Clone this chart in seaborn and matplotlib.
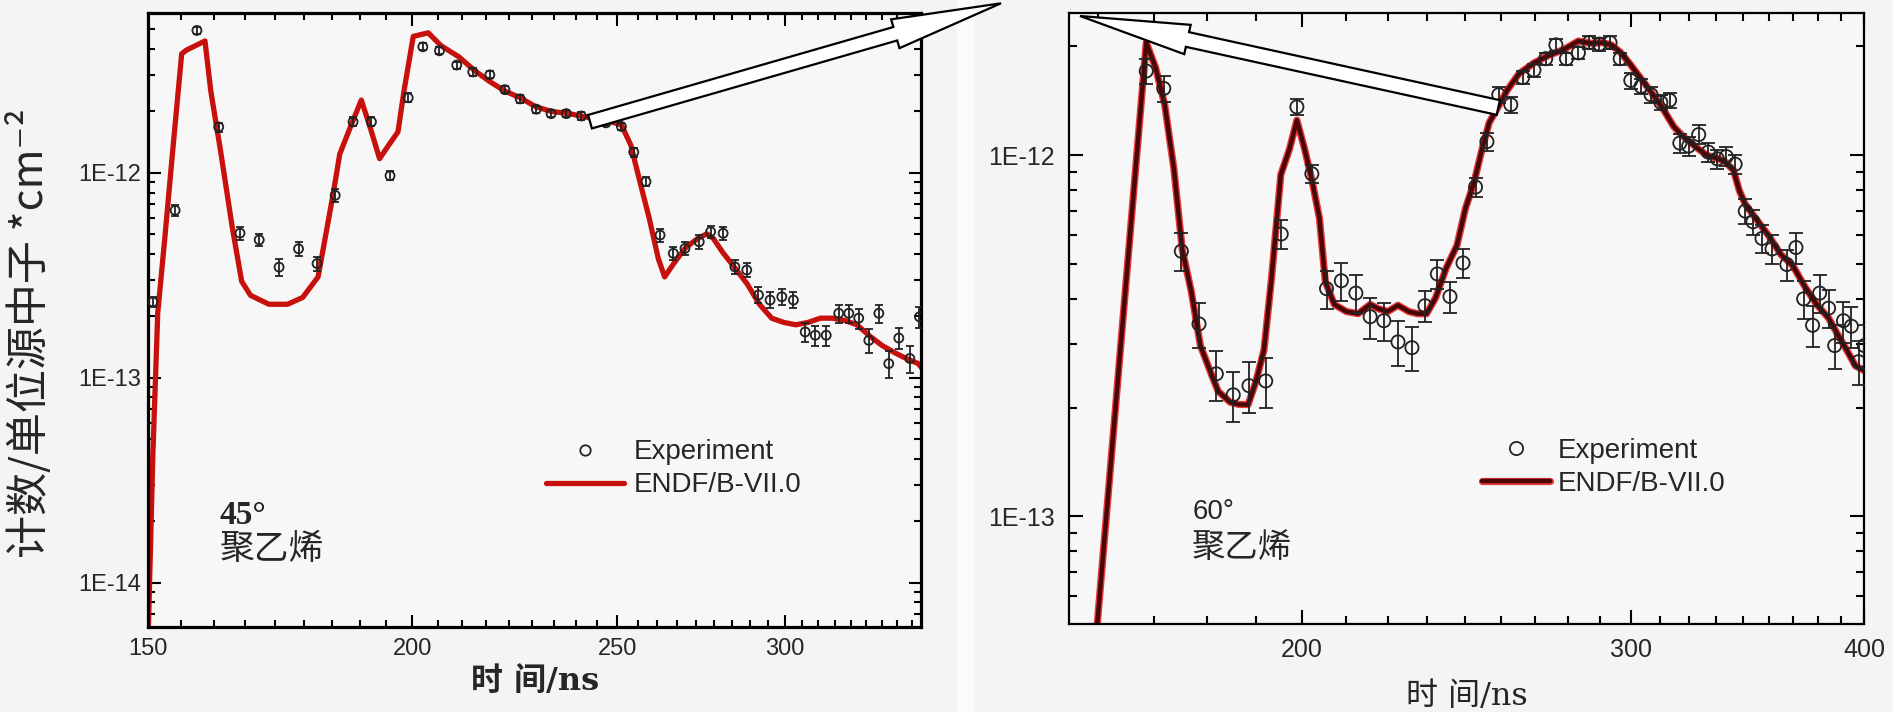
import numpy as np
import pandas as pd
import matplotlib
matplotlib.use("Agg")
import matplotlib.pyplot as plt
import seaborn as sns
import matplotlib.patheffects as pe
from matplotlib.ticker import FixedLocator, NullFormatter, FuncFormatter, LogLocator
from matplotlib.lines import Line2D
from matplotlib.patches import FancyArrow, Rectangle
from matplotlib.transforms import IdentityTransform

# ---------------- data: 45 degree panel ----------------
exp45_t = [150.8, 154.5, 158.2, 162.0, 165.8, 169.3, 173.0, 176.7, 180.3, 183.9,
           187.5, 191.3, 195.2, 199.1, 202.3, 206.0, 209.9, 213.6, 217.6, 221.2,
           224.9, 228.9, 232.6, 236.5, 240.4, 246.9, 251.1, 254.5, 257.9,
           261.9, 265.7, 269.1, 273.3, 276.7, 280.5, 284.1, 287.8, 291.5, 295.2, 299.0, 302.8,
           306.7, 310.1, 313.8, 318.1, 321.6, 325.1, 328.7, 332.3, 335.9, 339.6, 343.7, 347.3]
exp45_v = [0.234, 0.655, 4.94, 1.67, 0.507, 0.47, 0.346, 0.425, 0.36, 0.775,
           1.77, 1.77, 0.966, 2.32, 4.11, 3.93, 3.35, 3.10, 3.00, 2.54,
           2.29, 2.04, 1.94, 1.94, 1.89, 1.75, 1.68, 1.26, 0.904,
           0.496, 0.404, 0.427, 0.460, 0.515, 0.506, 0.347, 0.335, 0.253, 0.239, 0.248, 0.239,
           0.167, 0.161, 0.161, 0.206, 0.206, 0.195, 0.152, 0.206, 0.117, 0.156, 0.124, 0.198]
exp45_rel = [0.06, 0.06, 0.04, 0.05, 0.07, 0.07, 0.09, 0.08, 0.08, 0.07,
             0.05, 0.05, 0.05, 0.05, 0.04, 0.04, 0.04, 0.04, 0.04, 0.04,
             0.04, 0.04, 0.04, 0.04, 0.04, 0.04, 0.04, 0.05, 0.05,
             0.07, 0.07, 0.07, 0.08, 0.07, 0.07, 0.08, 0.08, 0.09, 0.09, 0.09, 0.09,
             0.11, 0.11, 0.11, 0.10, 0.10, 0.11, 0.13, 0.10, 0.15, 0.12, 0.15, 0.12]
endf45_t = [150.0, 150.8, 151.6, 152.8, 154.1, 155.6, 156.4, 159.6, 160.6, 162.3,
            164.4, 166.1, 167.7, 171.1, 174.6, 177.5, 180.5, 182.3, 183.6, 184.8,
            187.3, 189.2, 191.0, 193.0, 194.9, 196.9, 198.2, 200.2, 203.5, 206.3,
            210.4, 214.0, 217.6, 221.2, 224.9, 228.7, 232.6, 237.3, 242.1, 246.9,
            251.1, 253.7, 256.2, 258.8, 261.4, 263.2, 265.8, 269.3, 272.9, 275.6,
            277.5, 280.3, 284.1, 287.9, 291.8, 295.7, 299.6, 303.6, 307.7, 311.8,
            316.0, 320.2, 324.5, 328.9, 333.3, 337.8, 342.3, 346.9, 348.5]
endf45_v = [0.005, 0.0424, 0.207, 0.49, 1.29, 3.8, 3.96, 4.39, 2.51, 1.29,
            0.543, 0.295, 0.252, 0.228, 0.228, 0.246, 0.31, 0.543, 0.817, 1.23,
            1.75, 2.26, 1.67, 1.17, 1.36, 1.58, 2.51, 4.62, 4.81, 4.17,
            3.67, 3.15, 2.78, 2.50, 2.32, 2.10, 1.99, 1.94, 1.86, 1.80,
            1.71, 1.36, 0.904, 0.601, 0.38, 0.31, 0.36, 0.431, 0.478, 0.503,
            0.478, 0.41, 0.343, 0.287, 0.228, 0.195, 0.186, 0.181, 0.186, 0.195,
            0.195, 0.19, 0.181, 0.16, 0.144, 0.133, 0.124, 0.117, 0.11]

# ---------------- data: 60 degree panel ----------------
exp60_t = [165.0, 168.6, 172.3, 176.1, 179.9, 183.7, 187.3, 191.2, 194.9, 198.7,
           202.4, 206.1, 209.9, 213.7, 217.5, 221.2, 225.1, 229.0, 232.7, 236.3,
           240.0, 243.9, 247.7, 251.2, 254.9, 258.7, 262.5, 266.2, 270.1, 273.5,
           277.1, 281.2, 285.0, 288.6, 292.4, 296.1, 300.0, 303.8, 307.6, 311.3,
           314.7, 318.7, 322.2, 326.2, 330.1, 333.8, 337.5, 341.2, 345.5, 348.8,
           352.7, 357.1, 363.7, 367.8, 371.3, 375.4, 378.7, 382.9, 385.8, 390.0,
           393.8, 397.3, 400.2]
exp60_v = [1.71, 1.53, 0.542, 0.341, 0.248, 0.217, 0.23, 0.237, 0.605, 1.36,
           0.888, 0.427, 0.449, 0.415, 0.357, 0.348, 0.304, 0.293, 0.383, 0.469,
           0.406, 0.503, 0.816, 1.09, 1.47, 1.38, 1.64, 1.72, 1.85, 2.02,
           1.85, 1.92, 2.05, 2.03, 2.05, 1.85, 1.61, 1.55, 1.47, 1.40,
           1.42, 1.08, 1.06, 1.14, 1.02, 0.977, 0.991, 0.944, 0.70, 0.654,
           0.588, 0.55, 0.498, 0.555, 0.40, 0.338, 0.415, 0.377, 0.297, 0.348,
           0.336, 0.268, 0.297]
exp60_rel = [0.08, 0.08, 0.12, 0.14, 0.16, 0.16, 0.16, 0.16, 0.09, 0.05,
             0.06, 0.12, 0.12, 0.12, 0.13, 0.12, 0.14, 0.14, 0.10, 0.09,
             0.10, 0.09, 0.06, 0.06, 0.05, 0.05, 0.04, 0.04, 0.04, 0.04,
             0.04, 0.04, 0.04, 0.04, 0.04, 0.04, 0.05, 0.05, 0.05, 0.05,
             0.05, 0.06, 0.06, 0.06, 0.06, 0.06, 0.06, 0.06, 0.08, 0.08,
             0.09, 0.09, 0.10, 0.10, 0.12, 0.13, 0.12, 0.12, 0.14, 0.13,
             0.13, 0.14, 0.14]
endf60_t = [152.0, 155.3, 165.0, 166.9, 168.8, 170.7, 172.5, 174.4, 176.4, 178.3,
            180.3, 183.0, 185.0, 187.1, 188.9, 190.8, 192.6, 194.8, 196.9, 198.7,
            200.6, 202.5, 204.3, 205.8, 208.1, 211.2, 214.3, 217.5, 219.9, 222.3,
            225.1, 228.1, 230.6, 233.2, 235.8, 238.9, 242.1, 244.6, 247.3, 249.7,
            251.9, 254.7, 257.5, 261.3, 266.2, 271.1, 276.1, 281.2, 285.4, 289.6,
            292.8, 296.1, 299.4, 302.7, 307.2, 311.7, 316.3, 319.8, 324.6, 329.4,
            333.0, 336.7, 340.5, 343.0, 345.5, 350.6, 355.8, 361.0, 366.4, 371.8,
            377.3, 382.9, 387.2, 391.5, 395.8, 400.2]
endf60_v = [0.013, 0.0498, 2.05, 1.75, 1.38, 0.922, 0.547, 0.421, 0.297, 0.257,
            0.222, 0.207, 0.204, 0.204, 0.236, 0.289, 0.459, 0.883, 1.04, 1.25,
            1.04, 0.845, 0.67, 0.446, 0.386, 0.369, 0.364, 0.386, 0.375, 0.369,
            0.384, 0.369, 0.364, 0.364, 0.403, 0.487, 0.563, 0.71, 0.845, 1.04,
            1.23, 1.36, 1.51, 1.68, 1.80, 1.89, 1.96, 2.07, 2.04, 2.05,
            2.02, 1.93, 1.80, 1.67, 1.51, 1.36, 1.20, 1.13, 1.06, 1.00,
            0.983, 0.963, 0.909, 0.797, 0.731, 0.66, 0.596, 0.531, 0.494, 0.433,
            0.386, 0.354, 0.319, 0.289, 0.261, 0.253]

xticks45 = [150, 200, 250, 300]
xticks60 = [200, 300, 400]
yticks45 = [1e-14, 1e-13, 1e-12]
yticks60 = [1e-13, 1e-12]
legend_labels = ["Experiment", "ENDF/B-VII.0"]
ylabel_text = "计数/单位源中子 *cm⁻²"
xlabel_text = "时 间/ns"
material = "聚乙烯"

SCALE = 1e-12

# ---------------- style ----------------
sns.set_theme(style="ticks")
plt.rcParams["font.family"] = ["Liberation Sans", "Noto Sans CJK SC", "DejaVu Sans"]
plt.rcParams["axes.unicode_minus"] = False
plt.rcParams["mathtext.default"] = "regular"

BG = "#f4f4f4"
fig = plt.figure(figsize=(18.93, 7.12), dpi=100, facecolor=BG)
fig.add_artist(Rectangle((957, 0), 17, 712, transform=IdentityTransform(),
                         facecolor="#fbfbfb", edgecolor="none", zorder=0))

axL = fig.add_axes([0.07818, 0.11994, 0.40835, 0.86222])
axR = fig.add_axes([0.56471, 0.12303, 0.41997, 0.85913])

def efmt(v, pos):
    return "1E%d" % int(round(np.log10(v)))

def style_axes(ax, xlim, ylim, xmaj, xminstep, ymaj, spine_w, maj_len, min_len, xpad, ypad, fs):
    ax.set_facecolor("#f7f7f7")
    ax.set_xscale("log")
    ax.set_yscale("log")
    ax.set_xlim(*xlim)
    ax.set_ylim(*ylim)
    ax.xaxis.set_major_locator(FixedLocator(xmaj))
    ax.xaxis.set_major_formatter(FuncFormatter(lambda v, p: "%d" % round(v)))
    start = xmaj[0] - xminstep * 9
    mins = [start + k * xminstep for k in range(60)]
    mins = [m for m in mins if xlim[0] - 0.01 <= m <= xlim[1] + 0.01
            and min(abs(m - M) for M in xmaj) > 0.5]
    ax.xaxis.set_minor_locator(FixedLocator(mins))
    ax.xaxis.set_minor_formatter(NullFormatter())
    ax.yaxis.set_major_locator(FixedLocator(ymaj))
    ax.yaxis.set_major_formatter(FuncFormatter(efmt))
    ax.yaxis.set_minor_locator(LogLocator(base=10, subs=np.arange(2, 10)))
    ax.yaxis.set_minor_formatter(NullFormatter())
    for s in ax.spines.values():
        s.set_visible(True)
        s.set_linewidth(spine_w)
        s.set_color("black")
    ax.tick_params(which="both", direction="in", top=True, right=True,
                   color="black", width=1.5)
    ax.tick_params(which="major", length=maj_len)
    ax.tick_params(which="minor", length=min_len)
    ax.tick_params(axis="x", which="major", pad=xpad, labelsize=fs)
    ax.tick_params(axis="y", which="major", pad=ypad, labelsize=fs)
    ax.grid(False)
    ax.set_xlabel("")
    ax.set_ylabel("")

style_axes(axL, (150, 347.9), (6.1e-15, 6.03e-12), xticks45, 50 / 9,
           yticks45, 2.3, 9, 5, 8, 5, 17)
style_axes(axR, (150, 400), (5.02e-14, 2.48e-12), xticks60, 100 / 9,
           yticks60, 1.6, 10, 6, 10, 10, 18)

# ---------------- left panel ----------------
d45 = pd.DataFrame({"t": endf45_t, "v": np.array(endf45_v) * SCALE})
e45 = pd.DataFrame({"t": exp45_t, "v": np.array(exp45_v) * SCALE})
e45["err"] = e45["v"] * np.array(exp45_rel)

RED45 = "#c8100c"
sns.lineplot(data=d45, x="t", y="v", ax=axL, color=RED45, lw=3.8,
             sort=False, estimator=None, zorder=2)
axL.errorbar(e45["t"], e45["v"], yerr=e45["err"], fmt="none", ecolor="#222222",
             elinewidth=1.3, capsize=3.2, capthick=1.3, zorder=3)
sns.scatterplot(data=e45, x="t", y="v", ax=axL, marker="o", s=42,
                facecolor="none", edgecolor="#222222", linewidth=1.3, zorder=4)
axL.set_xlabel("")
axL.set_ylabel("")

hL = [Line2D([], [], ls="none", marker="o", ms=7.5, mfc="none", mec="#222222", mew=1.3),
      Line2D([], [], color=RED45, lw=3.8)]
legL = axL.legend(hL, legend_labels, loc="upper left", bbox_to_anchor=(0.515, 0.305),
                  frameon=False, fontsize=20, handlelength=2.8, handletextpad=0.35,
                  labelspacing=0.25, borderaxespad=0.0, borderpad=0.0)

axL.text(0.093, 0.207, "45°", transform=axL.transAxes, ha="left", va="top",
         fontsize=24, fontweight="bold", family=["Liberation Serif", "Noto Sans CJK SC"])
axL.text(0.093, 0.154, material, transform=axL.transAxes, ha="left", va="top",
         fontsize=25, family=["Noto Sans CJK SC", "DejaVu Sans"])

# ---------------- right panel ----------------
d60 = pd.DataFrame({"t": endf60_t, "v": np.array(endf60_v) * SCALE})
e60 = pd.DataFrame({"t": exp60_t, "v": np.array(exp60_v) * SCALE})
e60["err"] = e60["v"] * np.array(exp60_rel)

DARK60 = "#4a0606"
glow = [pe.Stroke(linewidth=5.2, foreground="#e8383a"), pe.Normal()]
sns.lineplot(data=d60, x="t", y="v", ax=axR, color=DARK60, lw=3.2,
             sort=False, estimator=None, zorder=2, path_effects=glow)
axR.errorbar(e60["t"], e60["v"], yerr=e60["err"], fmt="none", ecolor="#222222",
             elinewidth=1.3, capsize=4.8, capthick=1.3, zorder=3)
sns.scatterplot(data=e60, x="t", y="v", ax=axR, marker="o", s=90,
                facecolor="none", edgecolor="#222222", linewidth=1.3, zorder=4)
axR.set_xlabel("")
axR.set_ylabel("")

hR = [Line2D([], [], ls="none", marker="o", ms=9.5, mfc="none", mec="#222222", mew=1.3),
      Line2D([], [], color=DARK60, lw=3.2, path_effects=glow)]
legR = axR.legend(hR, legend_labels, loc="upper left", bbox_to_anchor=(0.52, 0.305),
                  frameon=False, fontsize=20, handlelength=2.45, handletextpad=0.25,
                  labelspacing=0.25, borderaxespad=0.0, borderpad=0.0)

axR.text(0.155, 0.205, "60°", transform=axR.transAxes, ha="left", va="top",
         fontsize=20, family=["Liberation Sans", "Noto Sans CJK SC"])
axR.text(0.155, 0.155, material, transform=axR.transAxes, ha="left", va="top",
         fontsize=24, family=["Noto Sans CJK SC", "DejaVu Sans"])

# ---------------- axis titles ----------------
fig.text(30 / 1893, 1 - 333 / 712, ylabel_text, rotation=90, ha="center", va="center",
         fontsize=31, family=["Noto Sans CJK SC", "DejaVu Sans"])
fig.text(535 / 1893, 1 - 681 / 712, xlabel_text, ha="center", va="center",
         fontsize=23, fontweight="bold", family=["DejaVu Serif", "Noto Sans CJK SC"])
fig.text(1467 / 1893, 1 - 696 / 712, xlabel_text, ha="center", va="center",
         fontsize=23, family=["DejaVu Serif", "Noto Sans CJK SC"])

# ---------------- annotation arrows (pixel coordinates) ----------------
H = 712
arrowL = FancyArrow(590, H - 121.7, 411, 118.4, width=14, head_width=30, head_length=110,
                    length_includes_head=True, transform=IdentityTransform(),
                    facecolor="white", edgecolor="black", lw=1.6, zorder=10)
arrowR = FancyArrow(1498.3, H - 107.5, -418.3, 91.5, width=15, head_width=30, head_length=110,
                    length_includes_head=True, transform=IdentityTransform(),
                    facecolor="white", edgecolor="black", lw=1.6, zorder=10)
fig.add_artist(arrowL)
fig.add_artist(arrowR)

fig.savefig("out.png", dpi=100, facecolor=BG)
